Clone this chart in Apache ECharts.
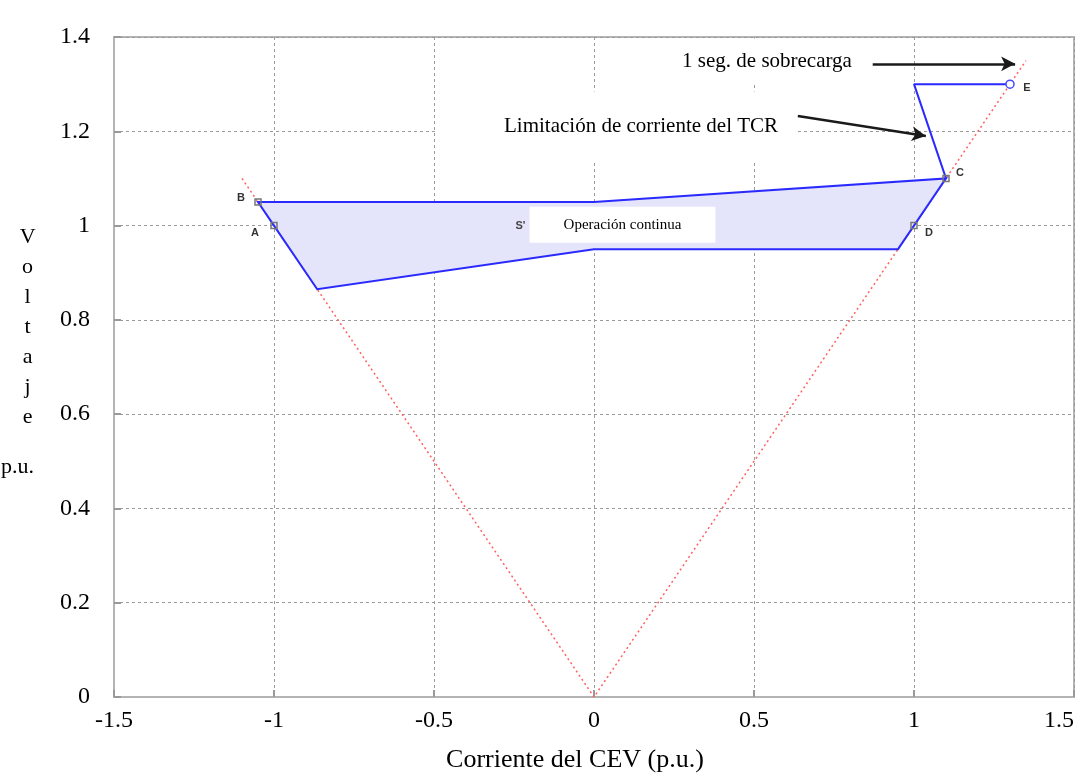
<!DOCTYPE html>
<html>
<head>
<meta charset="utf-8">
<script src="https://cdn.jsdelivr.net/npm/echarts@6/dist/echarts.min.js"></script>
<style>html,body{margin:0;padding:0;background:#fff;}#chart{width:1084px;height:776px;}</style>
</head>
<body>
<div id="chart"></div>
<script>
// ---- data ----
const xRange = [-1.5, 1.5];
const yRange = [0, 1.4];
// red dotted V (slope characteristic)
const vLine = [[-1.1, 1.1], [0, 0], [1.35, 1.35]];
// continuous operation region (closed outline)
const regionPts = [[-1.05, 1.05], [0, 1.05], [1.1, 1.1], [1.0, 1.0], [0.95, 0.95], [0, 0.95], [-0.865, 0.865], [-1.0, 1.0]];
// overload path C -> vertical -> E
const overloadPts = [[1.1, 1.1], [1.0, 1.3], [1.3, 1.3]];
// labelled points
const pointNames = ['B', 'A', 'C', 'D'];
const pointVals = [[-1.05, 1.05], [-1.0, 1.0], [1.1, 1.1], [1.0, 1.0]];
const pointE = [1.3, 1.3];
const pointS = [-0.23, 1.0];
// annotations
const annoTexts = ['1 seg. de sobrecarga', 'Limitación de corriente del TCR', 'Operación continua'];
const annoAnchors = [[0.45, 1.348], [0.072, 1.21], [0.089, 1.002]];
const arrows = [[[0.871, 1.343], [1.316, 1.343]], [[0.637, 1.2325], [1.037, 1.19]]];
const xLabel = 'Corriente del CEV (p.u.)';
const yLabelLetters = ['V', 'o', 'l', 't', 'a', 'j', 'e'];
const yLabelUnit = 'p.u.';

const serif = "'Liberation Serif', 'Times New Roman', serif";
const sans = "'Liberation Sans', Arial, sans-serif";

const chart = echarts.init(document.getElementById('chart'));

const labelOffsets = {B: [-17, -4], A: [-19, 7], C: [14, -5], D: [15, 7]};

const option = {
  animation: false,
  backgroundColor: '#fff',
  grid: {left: 114, right: 10, top: 37, bottom: 79, show: true, borderColor: '#b4b4b4', borderWidth: 2, outerBoundsMode: 'none'},
  xAxis: {
    type: 'value', min: xRange[0], max: xRange[1], interval: 0.5,
    axisLine: {show: true, onZero: false, lineStyle: {color: '#b4b4b4', width: 2}},
    axisTick: {show: true, inside: true, length: 7, lineStyle: {color: '#999', width: 2}},
    axisLabel: {color: '#000', fontFamily: serif, fontSize: 24, margin: 12, alignMaxLabel: 'right'},
    splitLine: {show: true, lineStyle: {color: '#9a9a9a', type: [3, 3], width: 1}},
    name: xLabel, nameLocation: 'middle', nameGap: 50,
    nameTextStyle: {color: '#000', fontFamily: serif, fontSize: 26, padding: [0, 38, 0, 0]}
  },
  yAxis: {
    type: 'value', min: yRange[0], max: yRange[1], interval: 0.2,
    axisLine: {show: true, onZero: false, lineStyle: {color: '#b4b4b4', width: 2}},
    axisTick: {show: true, inside: true, length: 7, lineStyle: {color: '#999', width: 2}},
    axisLabel: {color: '#000', fontFamily: serif, fontSize: 24, margin: 24},
    splitLine: {show: true, lineStyle: {color: '#9a9a9a', type: [3, 3], width: 1}},
    name: yLabelLetters.join('\n') + '\n{pu|' + yLabelUnit + '}',
    nameLocation: 'middle', nameGap: 84, nameRotate: 0,
    nameTextStyle: {
      color: '#000', fontFamily: serif, fontSize: 22, lineHeight: 30, align: 'center', verticalAlign: 'middle',
      padding: [0, 0, 10, 0],
      rich: {pu: {fontFamily: serif, fontSize: 22, lineHeight: 70, color: '#000', padding: [0, 20, 0, 0]}}
    }
  },
  series: [
    {
      type: 'line', data: vLine, symbol: 'none', silent: true, z: 2,
      lineStyle: {color: '#ff6060', width: 1.5, type: [2, 3]}
    },
    {
      type: 'custom', z: 3, silent: true,
      data: [0],
      renderItem: function (params, api) {
        const pts = regionPts.map(p => api.coord(p));
        return {
          type: 'polygon',
          shape: {points: pts},
          style: {fill: '#e4e4fb', stroke: '#2a2aff', lineWidth: 2}
        };
      }
    },
    {
      type: 'line', data: overloadPts, symbol: 'none', silent: true, z: 4,
      lineStyle: {color: '#2a2aff', width: 2}
    },
    {
      type: 'scatter', z: 6, silent: true,
      data: pointVals.map((v, i) => ({
        value: v,
        label: {show: true, formatter: pointNames[i], offset: labelOffsets[pointNames[i]]}
      })),
      symbol: 'rect', symbolSize: 6,
      itemStyle: {opacity: 1, color: 'rgba(255,255,255,0)', borderColor: '#777', borderWidth: 1.5},
      label: {position: 'inside', color: '#333', fontFamily: sans, fontWeight: 'bold', fontSize: 11}
    },
    {
      type: 'scatter', z: 6, silent: true,
      data: [{value: pointE, label: {show: true, formatter: 'E', offset: [17, 4]}}],
      symbol: 'circle', symbolSize: 8,
      itemStyle: {opacity: 1, color: '#fff', borderColor: '#4848ff', borderWidth: 1.5},
      label: {position: 'inside', color: '#333', fontFamily: sans, fontWeight: 'bold', fontSize: 11}
    },
    {
      type: 'scatter', z: 5, silent: true,
      data: [{value: pointS, label: {show: true, formatter: "S'"}}],
      symbolSize: 0, itemStyle: {opacity: 1},
      label: {position: 'inside', color: '#444', fontFamily: sans, fontWeight: 'bold', fontSize: 11}
    },
    {
      type: 'scatter', z: 7, silent: true, symbolSize: 0,
      itemStyle: {opacity: 1},
      data: [
        {value: annoAnchors[0], label: {formatter: annoTexts[0], fontSize: 21, padding: [12, 14, 13, 72]}},
        {value: annoAnchors[1], label: {formatter: annoTexts[1], fontSize: 21, padding: [11, 18, 38, 66]}},
        {value: annoAnchors[2], label: {formatter: annoTexts[2], fontSize: 15, padding: [11, 34, 10, 34]}}
      ],
      label: {show: true, position: 'inside', color: '#000', fontFamily: serif, backgroundColor: '#fff'},
      markLine: {
        silent: true, symbol: ['none', 'arrow'], symbolSize: [11, 14],
        label: {show: false},
        lineStyle: {color: '#1a1a1a', width: 2.5, type: 'solid', opacity: 1},
        data: arrows.map(a => [{coord: a[0]}, {coord: a[1]}])
      }
    }
  ]
};
chart.setOption(option);
</script>
</body>
</html>
